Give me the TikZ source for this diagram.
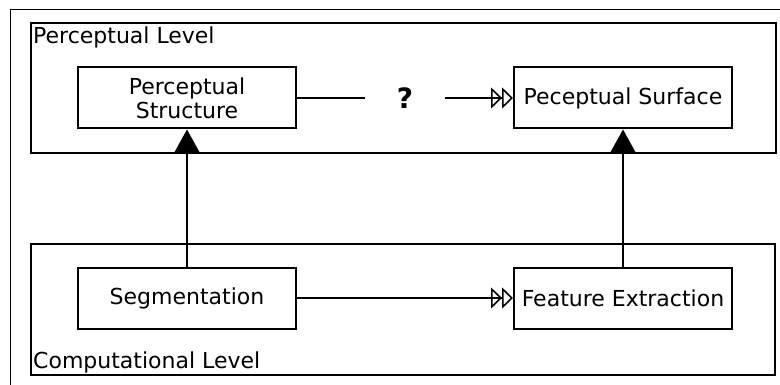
\documentclass[tikz,border=0pt]{standalone}
\usepackage{fontspec}
\setmainfont{DejaVu Sans}
\usetikzlibrary{arrows.meta}
\tikzset{
  block/.style={draw, line width=2pt, fill=white, minimum width=218pt, minimum height=61pt, align=center, inner sep=2pt},
  level/.style={draw, line width=2pt},
  hollow/.style={-{Triangle[open,length=11pt,width=21pt] Triangle[open,length=11pt,width=21pt]}, line width=1.6pt},
  solid/.style={-{Triangle[length=23pt,width=25pt]}, line width=1.6pt}
}
\begin{document}
\begin{tikzpicture}[x=1pt, y=-1pt, font=\fontsize{22}{24}\selectfont]
      \useasboundingbox (0,0) rectangle (780,385);
      % outer frame
      \draw[line width=1pt] (780,9.5) -- (10.5,9.5) -- (10.5,385);
      % levels
      \draw[level] (31,23) rectangle (776,153);
      \draw[level] (31,244) rectangle (775,375);
      \node[anchor=base west, inner sep=0pt] (pl) at (33,44) {Perceptual Level};
      \node[anchor=base west, inner sep=0pt] (cl) at (33,368) {Computational Level};
      % blocks
      \draw
        (187,98) node[block] (ps){Perceptual\\Structure}
        (623,98) node[block] (psurf){Peceptual Surface}
        (187,298) node[block] (seg){Segmentation}
        (623,298) node[block] (fe){Feature Extraction};
      \node[font=\fontsize{28}{30}\selectfont\bfseries, minimum width=79pt, inner sep=0pt] (q) at (405,98) {?};
      \begin{scope}
        \draw[line width=1.6pt] (ps) to (q);
        \draw[hollow] (q) to (psurf);
        \draw[hollow] (seg) to (fe);
        \draw[solid] (seg) to (ps);
        \draw[solid] (fe) to (psurf);
      \end{scope}
    \end{tikzpicture}
\end{document}
